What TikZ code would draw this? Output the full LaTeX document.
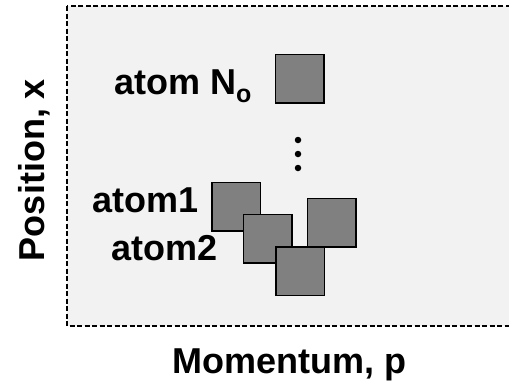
\documentclass[tikz,border=0pt]{standalone}
\usepackage{fontspec}
\setmainfont{Liberation Sans}
\begin{document}
\begin{tikzpicture}[x=1pt, y=-1pt,
  atombox/.style={draw=black, line width=1.5pt, fill=atomgray, minimum size=48.5pt, inner sep=0pt},
  lbl/.style={anchor=base west, inner sep=0pt, font=\fontsize{36}{43}\selectfont\bfseries},
  axislbl/.style={inner sep=0pt, font=\fontsize{36}{43}\selectfont\bfseries},
  dotmark/.style={circle, fill=black, inner sep=0pt, minimum size=6.5pt}]
\definecolor{atomgray}{HTML}{808080}
\definecolor{panel}{HTML}{F2F2F2}
\useasboundingbox (0,0) rectangle (509,381);
\fill[white] (0,0) rectangle (509,381);
% phase-space panel
\draw[fill=panel, line width=1.3pt, dash pattern=on 5pt off 2.5pt] (67,6) rectangle (520,326);
% atoms
\node[atombox] (aN) at (299.5,78.5) {};
\node[atombox] (a1) at (236,206.5) {};
\node[atombox] (a2) at (267.5,238.5) {};
\node[atombox] (a3) at (331.5,222.5) {};
\node[atombox] (a4) at (300,271) {};
% vertical ellipsis
\node[dotmark] (d1) at (298,140) {};
\node[dotmark] (d2) at (298,154) {};
\node[dotmark] (d3) at (298,168) {};
% labels
\node[lbl] (lN) at (114,94) {atom N\raisebox{-8.5pt}{\fontsize{25}{25}\selectfont o}};
\node[lbl] (l1) at (92,212) {atom1};
\node[lbl] (l2) at (111,260) {atom2};
% axes
\node[axislbl, anchor=base, rotate=90] (ylab) at (45,170) {Position, x};
\node[axislbl, anchor=base west] (xlab) at (172,373) {Momentum, p};
\end{tikzpicture}
\end{document}
